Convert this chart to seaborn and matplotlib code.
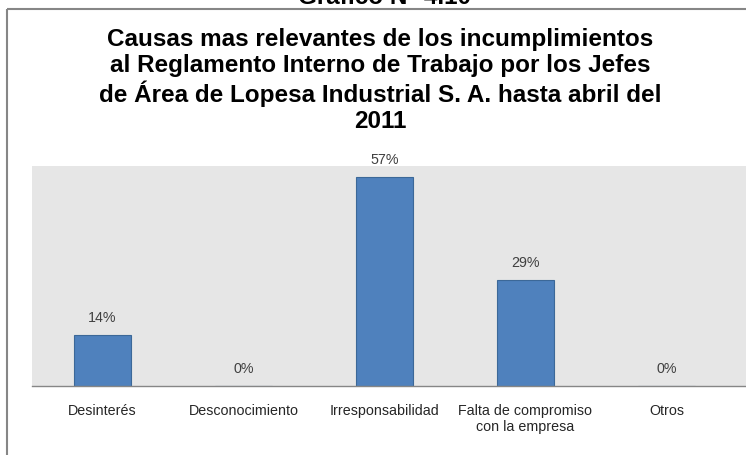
import matplotlib
matplotlib.use("Agg")
import matplotlib.pyplot as plt
import seaborn as sns
import pandas as pd
from matplotlib.lines import Line2D

categories = ["Desinterés", "Desconocimiento", "Irresponsabilidad",
              "Falta de compromiso\ncon la empresa", "Otros"]
values = [14, 0, 57, 29, 0]
value_labels = ["14%", "0%", "57%", "29%", "0%"]
title = ("Causas mas relevantes de los incumplimientos\n"
         "al Reglamento Interno de Trabajo por los Jefes\n"
         "de Área de Lopesa Industrial S. A. hasta abril del\n"
         "2011")
header = "Gráfico N° 4.10"

sns.set_theme(style="white")
plt.rcParams['font.family'] = ['Liberation Sans', 'DejaVu Sans']

W, H = 746, 455
fig = plt.figure(figsize=(W / 100, H / 100), dpi=100)
ax = fig.add_axes([32 / W, 1 - 386 / H, (W - 32) / W, (386 - 166) / H])

df = pd.DataFrame({"cat": categories, "val": values})
sns.barplot(data=df, x="cat", y="val", ax=ax, color="#4F81BD",
            width=0.41, edgecolor="#3C6898", linewidth=0.8, saturation=1)

ax.set_facecolor("#E6E6E6")
ax.set_ylim(0, 60)
ax.set_xlim(-0.5, 4.5 + 9 / 141)
ax.set_yticks([])
ax.set_xlabel("")
ax.set_ylabel("")
for s in ["top", "right", "left"]:
    ax.spines[s].set_visible(False)
ax.spines["bottom"].set_color("#868686")
ax.spines["bottom"].set_linewidth(1.0)
ax.tick_params(axis="x", length=0, pad=13, labelsize=10.3, labelcolor="#262626")

for i, (v, lab) in enumerate(zip(values, value_labels)):
    ax.annotate(lab, (i, v), xytext=(0, 7), textcoords="offset points",
                ha="center", va="bottom", fontsize=10.3, color="#404040")

fig.text(380 / W, 1 - 28 / H, title, ha="center", va="top", fontsize=17.5,
         fontweight="bold", color="black", linespacing=1.16)
fig.text(385 / W, 1 - 4 / H, header, ha="center", va="baseline", fontsize=17.5,
         fontweight="bold", color="black")

# outer frame (partially cropped)
fig.add_artist(Line2D([7 / W, 7 / W], [0, 1 - 9 / H], transform=fig.transFigure,
                      color="#868686", linewidth=1.5, solid_capstyle="butt"))
fig.add_artist(Line2D([7 / W, 1], [1 - 9 / H, 1 - 9 / H], transform=fig.transFigure,
                      color="#868686", linewidth=1.5, solid_capstyle="butt"))

fig.savefig("out.png", dpi=100)
